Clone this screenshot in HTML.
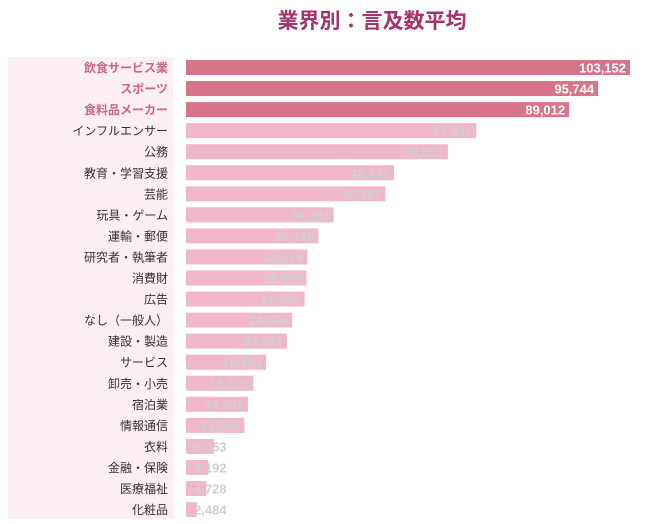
<!DOCTYPE html>
<html><head><meta charset="utf-8"><style>
body{margin:0;width:650px;height:519px;background:#fff;overflow:hidden;font-family:"Liberation Sans","Noto Sans CJK JP",sans-serif}
</style></head><body>
<svg id="c" width="650" height="519">
<rect x="8" y="57" width="165" height="462" fill="#fbeff3"/>
<text x="372" y="28" text-anchor="middle" font-size="21" font-weight="bold" fill="#a3336b">業界別：言及数平均</text>
</svg>
<script>
const categories=["飲食サービス業","スポーツ","食料品メーカー","インフルエンサー","公務","教育・学習支援","芸能","玩具・ゲーム","運輸・郵便","研究者・執筆者","消費財","広告","なし（一般人）","建設・製造","サービス","卸売・小売","宿泊業","情報通信","衣料","金融・保険","医療福祉","化粧品"];
const values=[103152,95744,89012,67437,60851,48321,46307,34283,30748,28179,28000,27550,24650,23433,18591,15622,14392,13581,6453,5192,4728,2484];
const highlight=[true,true,true];
const svg=document.getElementById('c');
const NS='http://www.w3.org/2000/svg';
const x0=186,scale=444/103152,y0=60,step=21.05,bh=15;
const xs=v=>x0+v*scale;
categories.forEach((c,i)=>{
  const y=y0+i*step,hi=!!highlight[i];
  const r=document.createElementNS(NS,'rect');
  r.setAttribute('x',x0);r.setAttribute('y',y);r.setAttribute('width',xs(values[i])-x0);r.setAttribute('height',bh);
  r.setAttribute('fill',hi?'#d87489':'#f0b6ca');
  
  
  svg.appendChild(r);
  const l=document.createElementNS(NS,'text');
  l.setAttribute('x',168);l.setAttribute('y',y+12);l.setAttribute('text-anchor','end');l.setAttribute('font-size','12');
  l.setAttribute('fill',hi?'#d0648a':'#333');if(hi)l.setAttribute('font-weight','bold');
  l.textContent=c;
  
  
  svg.appendChild(l);
  const t=document.createElementNS(NS,'text');
  t.setAttribute('x',xs(values[i])-4);t.setAttribute('y',y+12.5);t.setAttribute('text-anchor','end');t.setAttribute('font-size','13');t.setAttribute('font-weight','bold');
  t.setAttribute('fill',hi?'#fff':'#cfcfcf');
  if(xs(values[i])-x0<45){t.setAttribute('text-anchor','start');t.setAttribute('x',x0+8);}
  t.textContent=values[i].toLocaleString('en-US');
  
  
  svg.appendChild(t);
});
</script>
</body></html>
